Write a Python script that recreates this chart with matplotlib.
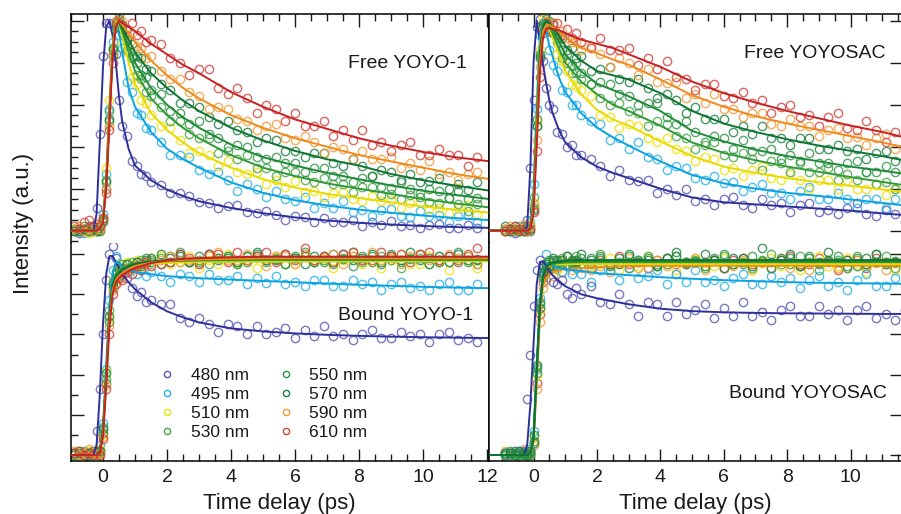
import matplotlib
matplotlib.use('Agg')
import matplotlib.pyplot as plt
from matplotlib.ticker import MultipleLocator
from matplotlib.lines import Line2D

plt.rcParams['font.family'] = ['Liberation Sans', 'DejaVu Sans']

# ----- data ----- #

wavelengths = ['480 nm', '495 nm', '510 nm', '530 nm', '550 nm', '570 nm', '590 nm', '610 nm']
marker_colours = ['#5656b4', '#25b0ea', '#f0e000', '#45a445', '#2e9444', '#1d803e', '#f39a36', '#d4403a']
line_colours = ['#30309a', '#0aa2e0', '#e6da00', '#2f9a36', '#1f8a38', '#0e7431', '#ef8a1c', '#c62222']

# measured time points (ps)
t_pts = [-0.9, -0.75, -0.6, -0.45, -0.3, -0.2, -0.1, 0.0, 0.1, 0.2, 0.3, 0.4, 0.5, 0.6, 0.75, 0.9,
         1.05, 1.2, 1.35, 1.5, 1.8, 2.1, 2.4, 2.7, 3.0, 3.3, 3.6, 3.9, 4.2, 4.5, 4.8, 5.1, 5.4, 5.7,
         6.0, 6.3, 6.6, 6.9, 7.2, 7.5, 7.8, 8.1, 8.4, 8.7, 9.0, 9.3, 9.6, 9.9, 10.2, 10.5, 10.8,
         11.1, 11.4, 11.7]

# time points of the fitted curves
t_fit_l = [-1.0, -0.3, -0.2, -0.1, 0.0, 0.1, 0.2, 0.3, 0.4, 0.5, 0.6, 0.8, 1.0, 1.5, 2, 2.5, 3,
           4, 5, 6, 7, 8, 9, 10, 11, 12.1]
t_fit_r = [-1.5, -0.3, -0.2, -0.1, 0.0, 0.1, 0.2, 0.3, 0.4, 0.5, 0.6, 0.8, 1.0, 1.5, 2, 2.5, 3,
           4, 5, 6, 7, 8, 9, 10, 11, 11.7]

# Free YOYO-1
fy_480 = [0.01, -0.01, 0.0, 0.01, 0.02, 0.11, 0.46, 0.83, 0.99, 0.99, 0.84, 0.84, 0.62, 0.5, 0.45, 0.33, 0.31, 0.27, 0.26, 0.23,
          0.219, 0.177, 0.177, 0.167, 0.134, 0.13, 0.109, 0.117, 0.121, 0.09, 0.082, 0.093, 0.075, 0.051, 0.069, 0.065, 0.042,
          0.062, 0.04, 0.043, 0.051, 0.024, 0.04, 0.025, 0.047, 0.021, 0.025, 0.011, 0.027, 0.032, 0.012, 0.011, 0.027, 0.014]
fy_495 = [0.0, 0.01, -0.01, 0.0, 0.01, 0.0, 0.02, 0.08, 0.27, 0.58, 0.9, 0.98, 0.93, 0.87, 0.71, 0.66, 0.56, 0.55, 0.49, 0.48,
          0.42, 0.36, 0.36, 0.35, 0.29, 0.27, 0.28, 0.24, 0.19, 0.22, 0.2, 0.16, 0.19, 0.15, 0.14, 0.16, 0.11, 0.13, 0.11, 0.14,
          0.09, 0.1, 0.07, 0.1, 0.105, 0.071, 0.067, 0.093, 0.07, 0.076, 0.042, 0.069, 0.076, 0.043]
fy_510 = [0.01, 0.0, 0.0, -0.01, 0.0, 0.01, 0.0, 0.05, 0.3, 0.62, 0.86, 0.97, 1.0, 0.9, 0.85, 0.73, 0.7, 0.62, 0.61, 0.55,
          0.5, 0.49, 0.43, 0.37, 0.38, 0.36, 0.31, 0.33, 0.28, 0.27, 0.28, 0.22, 0.24, 0.21, 0.235, 0.186, 0.187, 0.158, 0.181,
          0.185, 0.149, 0.143, 0.167, 0.141, 0.145, 0.109, 0.133, 0.137, 0.102, 0.108, 0.083, 0.108, 0.124, 0.08]
fy_530 = [0.0, 0.01, 0.02, 0.0, 0.01, 0.0, 0.02, 0.04, 0.24, 0.57, 0.83, 1.0, 0.97, 0.96, 0.86, 0.82, 0.74, 0.72, 0.66, 0.64,
          0.59, 0.52, 0.52, 0.46, 0.44, 0.44, 0.37, 0.38, 0.34, 0.36, 0.3, 0.3, 0.26, 0.28, 0.28, 0.24, 0.23, 0.25, 0.22, 0.22,
          0.185, 0.21, 0.21, 0.17, 0.175, 0.15, 0.17, 0.18, 0.136, 0.13, 0.154, 0.128, 0.092, 0.126]
fy_550 = [0.01, 0.0, 0.01, 0.02, 0.0, 0.01, 0.0, 0.06, 0.2, 0.52, 0.87, 0.98, 1.01, 0.94, 0.91, 0.83, 0.8, 0.74, 0.73, 0.67,
          0.65, 0.57, 0.56, 0.51, 0.52, 0.46, 0.44, 0.4, 0.41, 0.4, 0.35, 0.34, 0.35, 0.32, 0.32, 0.28, 0.3, 0.3, 0.26, 0.26,
          0.23, 0.25, 0.26, 0.21, 0.205, 0.23, 0.2, 0.16, 0.2, 0.19, 0.154, 0.188, 0.152, 0.156]
fy_570 = [0.0, 0.0, 0.01, 0.0, 0.02, 0.0, 0.01, 0.05, 0.23, 0.53, 0.86, 0.97, 0.99, 0.98, 0.91, 0.89, 0.83, 0.82, 0.77, 0.76,
          0.7, 0.67, 0.61, 0.61, 0.59, 0.54, 0.51, 0.52, 0.48, 0.47, 0.42, 0.44, 0.43, 0.38, 0.38, 0.35, 0.37, 0.37, 0.32, 0.31,
          0.34, 0.31, 0.26, 0.29, 0.28, 0.24, 0.27, 0.23, 0.235, 0.25, 0.2, 0.22, 0.195, 0.23]
fy_590 = [0.01, 0.02, 0.0, 0.01, 0.0, 0.02, 0.01, 0.06, 0.2, 0.5, 0.84, 1.0, 0.98, 1.0, 0.93, 0.94, 0.88, 0.87, 0.82, 0.83,
          0.76, 0.72, 0.72, 0.66, 0.64, 0.58, 0.59, 0.58, 0.53, 0.52, 0.48, 0.5, 0.51, 0.44, 0.43, 0.45, 0.42, 0.37, 0.4, 0.39,
          0.34, 0.38, 0.34, 0.34, 0.35, 0.3, 0.32, 0.29, 0.33, 0.27, 0.28, 0.24, 0.27, 0.28]
fy_610 = [0.02, 0.01, 0.04, 0.05, 0.02, 0.03, 0.02, 0.06, 0.18, 0.48, 0.8, 0.99, 1.03, 0.98, 0.96, 0.99, 0.93, 0.95, 0.9, 0.91,
          0.89, 0.82, 0.8, 0.74, 0.77, 0.77, 0.68, 0.65, 0.68, 0.63, 0.56, 0.6, 0.58, 0.52, 0.56, 0.5, 0.5, 0.52, 0.45, 0.48,
          0.43, 0.48, 0.41, 0.42, 0.38, 0.41, 0.42, 0.36, 0.36, 0.39, 0.36, 0.36, 0.31, 0.35]

fy_480_fit = [0, 0, 0.08, 0.42, 0.78, 0.97, 1.0, 0.93, 0.8, 0.64, 0.52, 0.39, 0.31, 0.24, 0.195, 0.165, 0.14, 0.108, 0.083, 0.063, 0.048, 0.037, 0.029, 0.022, 0.017, 0.013]
fy_495_fit = [0, 0, 0, 0.01, 0.06, 0.25, 0.6, 0.88, 1.0, 0.95, 0.85, 0.68, 0.59, 0.47, 0.39, 0.34, 0.3, 0.23, 0.18, 0.145, 0.12, 0.1, 0.085, 0.072, 0.06, 0.05]
fy_510_fit = [0, 0, 0, 0.01, 0.06, 0.25, 0.6, 0.88, 1.0, 0.98, 0.93, 0.8, 0.7, 0.56, 0.48, 0.42, 0.37, 0.3, 0.245, 0.205, 0.175, 0.155, 0.135, 0.115, 0.1, 0.085]
fy_530_fit = [0, 0, 0, 0.01, 0.05, 0.22, 0.55, 0.85, 0.99, 0.99, 0.95, 0.85, 0.76, 0.63, 0.55, 0.49, 0.44, 0.36, 0.3, 0.26, 0.225, 0.2, 0.175, 0.15, 0.13, 0.11]
fy_550_fit = [0, 0, 0, 0.01, 0.05, 0.22, 0.55, 0.85, 0.99, 0.99, 0.96, 0.88, 0.8, 0.68, 0.6, 0.54, 0.49, 0.41, 0.35, 0.31, 0.275, 0.245, 0.215, 0.19, 0.17, 0.15]
fy_570_fit = [0, 0, 0, 0.01, 0.05, 0.22, 0.55, 0.85, 0.99, 1.0, 0.97, 0.91, 0.85, 0.75, 0.68, 0.62, 0.57, 0.49, 0.43, 0.38, 0.34, 0.31, 0.27, 0.24, 0.215, 0.19]
fy_590_fit = [0, 0, 0, 0.01, 0.05, 0.22, 0.55, 0.85, 0.99, 1.0, 0.98, 0.94, 0.9, 0.81, 0.74, 0.68, 0.63, 0.55, 0.49, 0.44, 0.4, 0.36, 0.33, 0.3, 0.27, 0.245]
fy_610_fit = [0, 0, 0, 0.01, 0.04, 0.2, 0.5, 0.82, 0.97, 1.0, 0.99, 0.97, 0.95, 0.89, 0.84, 0.79, 0.75, 0.66, 0.59, 0.53, 0.485, 0.44, 0.405, 0.375, 0.35, 0.33]

# Bound YOYO-1
by_480 = [0.01, 0.0, 0.01, 0.0, 0.01, 0.12, 0.33, 0.6, 0.87, 1.0, 1.04, 0.98, 0.92, 0.9, 0.88, 0.83, 0.79, 0.81, 0.76, 0.77,
          0.75, 0.75, 0.68, 0.66, 0.68, 0.65, 0.61, 0.65, 0.64, 0.6, 0.64, 0.6, 0.61, 0.63, 0.58, 0.62, 0.59, 0.64, 0.59, 0.6,
          0.57, 0.6, 0.62, 0.58, 0.58, 0.61, 0.59, 0.6, 0.56, 0.6, 0.61, 0.57, 0.58, 0.56]
by_495 = [0.01, 0.0, 0.01, 0.0, 0.02, 0.01, 0.05, 0.16, 0.43, 0.77, 0.92, 0.99, 0.95, 0.93, 0.91, 0.93, 0.9, 0.92, 0.89, 0.91,
          0.89, 0.86, 0.9, 0.89, 0.86, 0.9, 0.87, 0.87, 0.89, 0.85, 0.88, 0.855, 0.89, 0.85, 0.86, 0.84, 0.87, 0.87, 0.84, 0.84,
          0.87, 0.85, 0.86, 0.82, 0.85, 0.86, 0.83, 0.84, 0.82, 0.85, 0.86, 0.82, 0.82, 0.85]
by_510 = [0.0, 0.01, 0.0, 0.02, 0.0, 0.01, 0.03, 0.1, 0.42, 0.68, 0.87, 0.92, 0.95, 0.91, 0.96, 0.93, 0.97, 0.94, 0.96, 0.98,
          0.99, 0.95, 0.96, 0.99, 0.93, 0.97, 0.95, 1.0, 0.95, 0.96, 0.93, 0.97, 0.99, 0.95, 0.95, 0.99, 0.96, 0.97, 0.93, 0.97,
          0.99, 0.95, 0.96, 0.93, 0.97, 1.0, 0.95, 0.95, 0.99, 0.96, 0.92, 0.97, 0.97, 0.93]
by_530 = [0.01, 0.0, 0.02, 0.01, 0.0, 0.02, 0.01, 0.14, 0.38, 0.72, 0.83, 0.91, 0.9, 0.95, 0.93, 0.96, 0.94, 0.97, 0.95, 0.97,
          0.98, 0.96, 1.01, 0.96, 0.97, 0.95, 0.98, 0.99, 0.96, 0.96, 0.99, 0.97, 0.98, 0.95, 0.98, 0.99, 0.96, 0.97, 0.95, 0.98,
          1.01, 0.96, 0.96, 0.99, 0.97, 0.93, 0.98, 0.98, 0.95, 0.99, 0.96, 0.97, 0.99, 0.95]
by_550 = [0.0, 0.02, 0.01, 0.0, 0.01, 0.0, 0.02, 0.11, 0.36, 0.66, 0.86, 0.88, 0.93, 0.91, 0.95, 0.94, 0.96, 0.94, 0.98, 0.96,
          0.95, 0.99, 1.0, 0.96, 0.96, 1.0, 0.98, 0.99, 0.95, 0.99, 1.0, 0.96, 0.975, 0.95, 0.99, 1.01, 0.96, 0.96, 1.0, 0.975,
          0.94, 0.99, 0.99, 0.95, 1.0, 0.96, 0.975, 1.0, 0.95, 0.99, 0.96, 1.01, 0.96, 0.975]
by_570 = [0.01, 0.01, 0.0, 0.01, 0.02, 0.0, 0.02, 0.13, 0.41, 0.69, 0.84, 0.9, 0.89, 0.93, 0.95, 0.93, 0.96, 0.95, 0.97, 0.98,
          1.0, 0.98, 0.99, 0.96, 0.99, 1.0, 0.97, 0.98, 0.96, 0.99, 1.01, 0.97, 0.97, 1.0, 0.98, 0.95, 0.99, 0.99, 0.96, 1.0,
          0.97, 0.98, 1.0, 0.96, 0.99, 0.97, 1.01, 0.97, 0.98, 0.96, 0.99, 1.0, 0.97, 0.97]
by_590 = [0.02, 0.0, 0.01, 0.03, 0.01, 0.0, 0.01, 0.09, 0.35, 0.64, 0.82, 0.86, 0.9, 0.88, 0.93, 0.92, 0.95, 0.93, 0.96, 0.95,
          0.97, 0.99, 0.96, 0.97, 0.95, 0.99, 1.01, 0.97, 0.97, 1.0, 0.98, 0.94, 0.99, 0.99, 0.95, 1.0, 0.97, 0.98, 1.0, 0.95,
          0.99, 0.97, 1.01, 0.97, 0.98, 0.95, 0.99, 1.0, 0.97, 0.97, 1.0, 0.98, 0.99, 0.95]
by_610 = [0.01, 0.02, 0.0, 0.01, 0.0, 0.02, 0.0, 0.08, 0.33, 0.6, 0.8, 0.85, 0.88, 0.87, 0.91, 0.9, 0.94, 0.92, 0.96, 0.94,
          0.95, 0.96, 1.0, 0.98, 0.95, 1.0, 1.0, 0.96, 1.01, 0.97, 0.99, 1.01, 0.96, 1.0, 0.97, 1.03, 0.97, 0.99, 0.96, 1.0,
          1.01, 0.97, 0.97, 1.01, 0.99, 1.0, 0.96, 1.0, 1.01, 0.97, 0.99, 0.96, 1.0, 1.03]

by_480_fit = [0, 0, 0.05, 0.3, 0.65, 0.9, 0.99, 0.99, 0.96, 0.93, 0.9, 0.86, 0.825, 0.76, 0.715, 0.685, 0.66, 0.63, 0.615, 0.605, 0.598, 0.593, 0.589, 0.586, 0.584, 0.582]
by_495_fit = [0, 0, 0, 0.02, 0.14, 0.45, 0.75, 0.9, 0.96, 0.96, 0.94, 0.92, 0.91, 0.9, 0.89, 0.885, 0.88, 0.873, 0.866, 0.86, 0.853, 0.847, 0.842, 0.837, 0.833, 0.83]
by_510_fit = [0, 0, 0, 0.02, 0.12, 0.4, 0.7, 0.85, 0.9, 0.92, 0.93, 0.94, 0.945, 0.952, 0.956, 0.958, 0.96, 0.961, 0.962, 0.962, 0.963, 0.963, 0.963, 0.964, 0.964, 0.964]
by_530_fit = [0, 0, 0, 0.02, 0.12, 0.4, 0.7, 0.85, 0.9, 0.92, 0.93, 0.945, 0.952, 0.96, 0.964, 0.966, 0.968, 0.969, 0.97, 0.97, 0.97, 0.97, 0.97, 0.97, 0.97, 0.97]
by_550_fit = [0, 0, 0, 0.02, 0.12, 0.4, 0.7, 0.85, 0.89, 0.91, 0.925, 0.94, 0.95, 0.962, 0.967, 0.97, 0.972, 0.974, 0.975, 0.975, 0.975, 0.975, 0.975, 0.975, 0.975, 0.975]
by_570_fit = [0, 0, 0, 0.02, 0.12, 0.4, 0.7, 0.85, 0.89, 0.905, 0.92, 0.938, 0.95, 0.964, 0.97, 0.973, 0.975, 0.977, 0.978, 0.978, 0.978, 0.978, 0.978, 0.978, 0.978, 0.978]
by_590_fit = [0, 0, 0, 0.01, 0.1, 0.36, 0.66, 0.82, 0.87, 0.89, 0.905, 0.925, 0.94, 0.958, 0.966, 0.97, 0.973, 0.976, 0.978, 0.978, 0.978, 0.978, 0.978, 0.978, 0.978, 0.978]
by_610_fit = [0, 0, 0, 0.01, 0.09, 0.34, 0.63, 0.8, 0.86, 0.88, 0.895, 0.915, 0.93, 0.955, 0.968, 0.976, 0.98, 0.984, 0.987, 0.987, 0.987, 0.987, 0.987, 0.987, 0.987, 0.987]

# Free YOYOSAC
fs_480 = [0.0, 0.01, -0.01, 0.0, 0.01, 0.05, 0.3, 0.62, 0.97, 1.01, 0.81, 0.68, 0.6, 0.58, 0.47, 0.46, 0.4, 0.41, 0.36, 0.36,
          0.34, 0.31, 0.26, 0.29, 0.24, 0.235, 0.24, 0.18, 0.2, 0.17, 0.2, 0.14, 0.15, 0.12, 0.15, 0.16, 0.12, 0.11, 0.15, 0.12,
          0.13, 0.09, 0.12, 0.13, 0.09, 0.1, 0.08, 0.11, 0.13, 0.08, 0.07, 0.1, 0.08, 0.04]
fs_495 = [0.01, 0.0, 0.0, 0.02, 0.0, 0.01, 0.04, 0.22, 0.58, 0.93, 0.98, 0.96, 0.86, 0.79, 0.76, 0.67, 0.66, 0.6, 0.6, 0.55,
          0.52, 0.51, 0.43, 0.44, 0.39, 0.42, 0.35, 0.34, 0.29, 0.31, 0.3, 0.25, 0.24, 0.26, 0.225, 0.23, 0.19, 0.21, 0.22, 0.18,
          0.18, 0.15, 0.19, 0.21, 0.15, 0.15, 0.18, 0.15, 0.11, 0.15, 0.15, 0.11, 0.15, 0.11]
fs_510 = [0.0, 0.01, 0.01, 0.0, 0.0, 0.02, 0.03, 0.13, 0.52, 0.86, 1.01, 0.97, 0.95, 0.94, 0.84, 0.81, 0.76, 0.7, 0.69, 0.67,
          0.64, 0.55, 0.54, 0.49, 0.51, 0.5, 0.44, 0.42, 0.44, 0.39, 0.38, 0.33, 0.35, 0.34, 0.29, 0.3, 0.26, 0.29, 0.31, 0.25,
          0.24, 0.27, 0.24, 0.2, 0.24, 0.24, 0.2, 0.24, 0.2, 0.2, 0.22, 0.17, 0.2, 0.17]
fs_530 = [0.01, 0.0, 0.02, 0.0, 0.01, 0.0, 0.02, 0.16, 0.5, 0.84, 0.97, 1.01, 0.95, 0.95, 0.9, 0.82, 0.8, 0.75, 0.75, 0.72,
          0.7, 0.63, 0.6, 0.61, 0.57, 0.56, 0.5, 0.52, 0.51, 0.45, 0.44, 0.39, 0.41, 0.42, 0.36, 0.35, 0.37, 0.34, 0.29, 0.33,
          0.32, 0.28, 0.32, 0.28, 0.28, 0.3, 0.24, 0.27, 0.24, 0.28, 0.22, 0.23, 0.2, 0.23]
fs_550 = [0.0, 0.01, 0.0, 0.01, 0.02, 0.0, 0.01, 0.11, 0.53, 0.83, 0.99, 0.98, 1.0, 0.94, 0.93, 0.86, 0.84, 0.79, 0.8, 0.75,
          0.7, 0.71, 0.7, 0.65, 0.64, 0.6, 0.61, 0.61, 0.54, 0.51, 0.52, 0.47, 0.42, 0.45, 0.44, 0.39, 0.43, 0.38, 0.38, 0.39,
          0.34, 0.36, 0.33, 0.37, 0.32, 0.32, 0.29, 0.32, 0.33, 0.28, 0.28, 0.31, 0.28, 0.28]
fs_570 = [0.02, 0.0, 0.01, 0.0, 0.0, 0.01, 0.0, 0.1, 0.5, 0.82, 0.98, 0.99, 0.97, 0.99, 0.92, 0.92, 0.86, 0.87, 0.82, 0.83,
          0.76, 0.77, 0.78, 0.72, 0.71, 0.72, 0.68, 0.63, 0.65, 0.62, 0.56, 0.59, 0.53, 0.53, 0.53, 0.47, 0.5, 0.46, 0.5, 0.44,
          0.44, 0.41, 0.44, 0.44, 0.39, 0.39, 0.41, 0.38, 0.39, 0.34, 0.37, 0.38, 0.33, 0.33]
fs_590 = [0.01, 0.02, 0.0, 0.01, 0.03, 0.0, 0.02, 0.12, 0.43, 0.78, 0.96, 1.0, 0.97, 0.99, 0.94, 0.95, 0.92, 0.9, 0.9, 0.86,
          0.88, 0.84, 0.78, 0.82, 0.8, 0.74, 0.77, 0.71, 0.705, 0.71, 0.63, 0.65, 0.61, 0.65, 0.58, 0.58, 0.54, 0.56, 0.56, 0.51,
          0.5, 0.53, 0.5, 0.5, 0.45, 0.48, 0.49, 0.44, 0.444, 0.41, 0.44, 0.46, 0.39, 0.38]
fs_610 = [0.0, 0.01, 0.02, 0.01, 0.0, 0.02, 0.01, 0.09, 0.38, 0.73, 0.94, 0.99, 0.95, 0.98, 0.99, 0.93, 0.96, 0.92, 0.94, 0.9,
          0.87, 0.92, 0.86, 0.86, 0.87, 0.79, 0.82, 0.77, 0.81, 0.73, 0.72, 0.67, 0.7, 0.7, 0.64, 0.63, 0.66, 0.61, 0.62, 0.56,
          0.59, 0.6, 0.54, 0.55, 0.5, 0.54, 0.56, 0.49, 0.48, 0.52, 0.48, 0.42, 0.47, 0.46]

fs_480_fit = [0, 0, 0.02, 0.3, 0.8, 1.0, 0.9, 0.79, 0.7, 0.62, 0.56, 0.48, 0.42, 0.35, 0.305, 0.275, 0.25, 0.2, 0.158, 0.135, 0.125, 0.115, 0.105, 0.095, 0.082, 0.074]
fs_495_fit = [0, 0, 0, 0.02, 0.2, 0.6, 0.92, 1.0, 0.95, 0.88, 0.83, 0.73, 0.66, 0.56, 0.49, 0.445, 0.405, 0.33, 0.265, 0.225, 0.2, 0.18, 0.165, 0.148, 0.132, 0.12]
fs_510_fit = [0, 0, 0, 0.01, 0.15, 0.55, 0.88, 0.99, 1.0, 0.96, 0.92, 0.84, 0.76, 0.65, 0.575, 0.53, 0.5, 0.425, 0.355, 0.305, 0.275, 0.25, 0.23, 0.213, 0.196, 0.184]
fs_530_fit = [0, 0, 0, 0.01, 0.14, 0.52, 0.86, 0.99, 1.0, 0.97, 0.94, 0.87, 0.8, 0.71, 0.65, 0.6, 0.57, 0.5, 0.42, 0.37, 0.335, 0.305, 0.28, 0.255, 0.232, 0.216]
fs_550_fit = [0, 0, 0, 0.01, 0.13, 0.5, 0.85, 0.98, 1.0, 0.98, 0.96, 0.9, 0.84, 0.76, 0.7, 0.67, 0.64, 0.57, 0.475, 0.425, 0.385, 0.355, 0.33, 0.305, 0.285, 0.271]
fs_570_fit = [0, 0, 0, 0.01, 0.12, 0.48, 0.84, 0.97, 1.0, 0.99, 0.97, 0.93, 0.88, 0.81, 0.76, 0.74, 0.72, 0.655, 0.57, 0.51, 0.47, 0.435, 0.405, 0.38, 0.355, 0.334]
fs_590_fit = [0, 0, 0, 0.01, 0.1, 0.45, 0.8, 0.95, 0.98, 0.98, 0.97, 0.95, 0.92, 0.87, 0.845, 0.815, 0.79, 0.72, 0.645, 0.59, 0.545, 0.51, 0.48, 0.45, 0.42, 0.397]
fs_610_fit = [0, 0, 0, 0.01, 0.08, 0.4, 0.75, 0.92, 0.96, 0.965, 0.96, 0.955, 0.94, 0.91, 0.89, 0.87, 0.84, 0.78, 0.71, 0.655, 0.61, 0.57, 0.535, 0.5, 0.47, 0.444]

# Bound YOYOSAC
bs_480 = [0.01, 0.0, 0.02, 0.01, 0.02, 0.28, 0.5, 0.74, 0.92, 0.97, 0.94, 0.91, 0.93, 0.86, 0.85, 0.87, 0.8, 0.78, 0.83, 0.8,
          0.84, 0.76, 0.75, 0.8, 0.75, 0.69, 0.76, 0.75, 0.69, 0.76, 0.7, 0.72, 0.75, 0.68, 0.73, 0.69, 0.76, 0.69, 0.71, 0.67,
          0.72, 0.74, 0.69, 0.69, 0.74, 0.7, 0.72, 0.67, 0.72, 0.74, 0.68, 0.7, 0.67, 0.72]
bs_495 = [0.0, 0.01, 0.0, 0.02, 0.01, 0.0, 0.03, 0.12, 0.43, 0.78, 0.93, 1.0, 0.97, 0.93, 0.95, 0.91, 0.94, 0.9, 0.93, 0.9,
          0.86, 0.92, 0.92, 0.87, 0.93, 0.88, 0.89, 0.92, 0.85, 0.9, 0.86, 0.92, 0.86, 0.87, 0.84, 0.88, 0.9, 0.85, 0.85, 0.89,
          0.86, 0.88, 0.83, 0.87, 0.89, 0.84, 0.86, 0.82, 0.87, 0.9, 0.84, 0.84, 0.88, 0.85]
bs_510 = [0.0, 0.01, 0.02, 0.0, 0.01, 0.0, 0.02, 0.09, 0.4, 0.72, 0.9, 0.96, 0.93, 0.95, 0.92, 0.96, 0.94, 0.97, 0.93, 0.95,
          0.94, 0.95, 0.98, 0.92, 0.96, 0.94, 0.99, 0.94, 0.95, 0.92, 0.96, 0.98, 0.94, 0.94, 0.98, 0.95, 0.96, 0.92, 0.96, 0.98,
          0.94, 0.95, 0.92, 0.96, 0.99, 0.94, 0.94, 0.98, 0.95, 0.91, 0.96, 0.96, 0.92, 0.98]
bs_530 = [0.01, 0.0, 0.0, 0.01, 0.0, 0.02, 0.01, 0.06, 0.44, 0.75, 0.88, 0.93, 0.97, 0.94, 0.96, 0.98, 0.95, 0.96, 0.99, 0.95,
          0.95, 1.0, 0.95, 0.96, 0.93, 0.97, 0.99, 0.95, 0.95, 0.99, 0.96, 0.97, 0.93, 0.97, 0.99, 0.95, 0.96, 0.93, 0.97, 1.0,
          0.95, 0.95, 0.99, 0.96, 0.92, 0.97, 0.97, 0.93, 0.99, 0.95, 0.96, 0.99, 0.93, 0.97]
bs_550 = [0.0, 0.02, 0.01, 0.0, 0.0, 0.01, 0.0, 0.07, 0.41, 0.76, 0.9, 0.92, 0.96, 0.97, 0.94, 0.97, 0.99, 0.95, 0.97, 0.98,
          0.98, 0.99, 0.95, 0.95, 0.99, 0.97, 0.98, 0.94, 0.98, 0.99, 0.95, 0.965, 0.94, 0.98, 1.0, 0.95, 0.95, 0.99, 0.965, 0.93,
          0.98, 0.98, 0.94, 0.99, 0.95, 0.965, 0.99, 0.94, 0.98, 0.95, 1.0, 0.95, 0.965, 0.94]
bs_570 = [0.01, 0.01, 0.0, 0.02, 0.01, 0.0, 0.02, 0.1, 0.45, 0.73, 0.91, 0.95, 0.94, 0.98, 0.97, 0.95, 0.99, 0.97, 0.96, 1.0,
          0.97, 0.98, 0.94, 0.98, 1.0, 0.96, 0.97, 0.94, 0.98, 1.01, 0.96, 0.96, 1.0, 0.97, 0.93, 0.98, 0.98, 0.94, 1.03, 0.96,
          0.97, 1.0, 0.94, 0.98, 0.96, 1.01, 0.96, 0.97, 0.94, 0.98, 1.0, 0.96, 0.96, 1.0]
bs_590 = [0.02, 0.01, 0.0, 0.01, 0.03, 0.01, 0.0, 0.05, 0.33, 0.66, 0.83, 0.87, 0.92, 0.89, 0.93, 0.91, 0.94, 0.92, 0.95, 0.93,
          0.92, 0.94, 0.91, 0.95, 0.98, 0.93, 0.93, 0.97, 0.94, 0.9, 0.955, 0.955, 0.92, 0.97, 0.93, 0.94, 0.97, 0.92, 0.955, 0.93,
          0.98, 0.93, 0.94, 0.92, 0.955, 0.97, 0.93, 0.93, 0.97, 0.94, 0.955, 0.92, 0.955, 0.97]
bs_610 = [0.0, 0.01, 0.0, 0.0, 0.01, 0.0, 0.01, 0.06, 0.36, 0.7, 0.86, 0.93, 0.94, 0.96, 0.95, 0.97, 0.95, 0.96, 0.97, 0.95,
          0.93, 0.97, 0.95, 0.99, 0.95, 0.96, 0.93, 0.97, 0.98, 0.95, 0.95, 0.98, 0.96, 0.97, 0.93, 0.97, 0.98, 0.95, 0.96, 0.93,
          0.97, 0.99, 0.95, 0.95, 0.98, 0.96, 0.92, 0.97, 0.97, 0.93, 0.98, 0.95, 0.96, 0.98]

bs_480_fit = [0, 0, 0.05, 0.25, 0.55, 0.85, 0.96, 0.965, 0.94, 0.915, 0.895, 0.865, 0.84, 0.8, 0.78, 0.765, 0.75, 0.728, 0.716, 0.71, 0.707, 0.705, 0.704, 0.703, 0.702, 0.702]
bs_495_fit = [0, 0, 0, 0.01, 0.1, 0.45, 0.76, 0.9, 0.95, 0.95, 0.945, 0.93, 0.925, 0.915, 0.905, 0.9, 0.895, 0.885, 0.877, 0.87, 0.865, 0.86, 0.857, 0.855, 0.853, 0.852]
bs_510_fit = [0, 0, 0, 0.01, 0.08, 0.42, 0.74, 0.89, 0.93, 0.94, 0.945, 0.948, 0.95, 0.95, 0.95, 0.95, 0.95, 0.95, 0.95, 0.95, 0.95, 0.95, 0.95, 0.95, 0.95, 0.95]
bs_530_fit = [0, 0, 0, 0.01, 0.08, 0.42, 0.74, 0.89, 0.935, 0.945, 0.95, 0.955, 0.958, 0.96, 0.96, 0.96, 0.96, 0.96, 0.96, 0.96, 0.96, 0.96, 0.96, 0.96, 0.96, 0.96]
bs_550_fit = [0, 0, 0, 0.01, 0.08, 0.42, 0.74, 0.89, 0.935, 0.948, 0.955, 0.96, 0.963, 0.965, 0.965, 0.965, 0.965, 0.965, 0.965, 0.965, 0.965, 0.965, 0.965, 0.965, 0.965, 0.965]
bs_570_fit = [0, 0, 0, 0.01, 0.08, 0.42, 0.74, 0.89, 0.935, 0.95, 0.958, 0.964, 0.967, 0.97, 0.97, 0.97, 0.97, 0.97, 0.97, 0.97, 0.97, 0.97, 0.97, 0.97, 0.97, 0.97]
bs_590_fit = [0, 0, 0, 0.01, 0.06, 0.35, 0.68, 0.85, 0.88, 0.9, 0.91, 0.92, 0.925, 0.93, 0.935, 0.938, 0.94, 0.942, 0.942, 0.942, 0.942, 0.942, 0.942, 0.942, 0.942, 0.942]
bs_610_fit = [0, 0, 0, 0.01, 0.07, 0.38, 0.71, 0.87, 0.92, 0.935, 0.945, 0.95, 0.953, 0.956, 0.958, 0.958, 0.958, 0.958, 0.958, 0.958, 0.958, 0.958, 0.958, 0.958, 0.958, 0.958]

# ----- figure ----- #

W, H = 901, 514
fig = plt.figure(figsize=(W / 100, H / 100), dpi=100)


def add_panel(x0, y0, w, h):
    # pixel box (left, top, width, height) -> figure fraction
    return fig.add_axes([x0 / W, 1 - (y0 + h) / H, w / W, h / H])


ax_fy = add_panel(71, 14, 417.5, 229)
ax_fs = add_panel(488.5, 14, 413.5, 229)
ax_by = add_panel(71, 243, 417.5, 218)
ax_bs = add_panel(488.5, 243, 413.5, 218)

panels = [
    (ax_fy, t_fit_l, [fy_480, fy_495, fy_510, fy_530, fy_550, fy_570, fy_590, fy_610],
     [fy_480_fit, fy_495_fit, fy_510_fit, fy_530_fit, fy_550_fit, fy_570_fit, fy_590_fit, fy_610_fit],
     'Free YOYO-1', (0.9485, 0.764), [0, 1, 2, 3, 4, 5, 6, 7]),
    (ax_fs, t_fit_r, [fs_480, fs_495, fs_510, fs_530, fs_550, fs_570, fs_590, fs_610],
     [fs_480_fit, fs_495_fit, fs_510_fit, fs_530_fit, fs_550_fit, fs_570_fit, fs_590_fit, fs_610_fit],
     'Free YOYOSAC', (0.959, 0.807), [0, 1, 2, 3, 4, 5, 6, 7]),
    (ax_by, t_fit_l, [by_480, by_495, by_510, by_530, by_550, by_570, by_590, by_610],
     [by_480_fit, by_495_fit, by_510_fit, by_530_fit, by_550_fit, by_570_fit, by_590_fit, by_610_fit],
     'Bound YOYO-1', (0.9636, 0.647), [0, 1, 2, 3, 4, 5, 6, 7]),
    (ax_bs, t_fit_r, [bs_480, bs_495, bs_510, bs_530, bs_550, bs_570, bs_590, bs_610],
     [bs_480_fit, bs_495_fit, bs_510_fit, bs_530_fit, bs_550_fit, bs_570_fit, bs_590_fit, bs_610_fit],
     'Bound YOYOSAC', (0.963, 0.2876), [7, 6, 2, 1, 0, 3, 4, 5]),
]

for ax, t_fit, pts, fits, label, (lx, ly), order in panels:
    for i in order:
        ax.plot(t_pts, pts[i], ls='none', marker='o', ms=6, mfc='none', mew=1.0,
                mec=marker_colours[i], alpha=0.8, zorder=2)
    for i in order:
        ax.plot(t_fit, fits[i], '-', color=line_colours[i], lw=1.4, zorder=3)
    ax.text(lx, ly, label, transform=ax.transAxes, ha='right', va='baseline',
            fontsize=14, color='#1a1a1a')

# axis limits and ticks
for ax in (ax_fy, ax_by):
    ax.set_xlim(-1.0, 12.05)
for ax in (ax_fs, ax_bs):
    ax.set_xlim(-1.42, 11.62)
for ax in (ax_fy, ax_fs):
    ax.set_ylim(-0.059, 1.032)
    ax.yaxis.set_major_locator(MultipleLocator(0.2))
    ax.yaxis.set_minor_locator(MultipleLocator(0.05))
    ax.spines['bottom'].set_visible(False)
for ax in (ax_by, ax_bs):
    ax.set_ylim(-0.03, 1.055)
    ax.yaxis.set_major_locator(MultipleLocator(0.2))
    ax.yaxis.set_minor_locator(MultipleLocator(0.1))
    ax.spines['top'].set_visible(False)

for ax in (ax_fy, ax_fs, ax_by, ax_bs):
    is_top = ax in (ax_fy, ax_fs)
    is_left = ax in (ax_fy, ax_by)
    ax.xaxis.set_major_locator(MultipleLocator(2))
    ax.xaxis.set_minor_locator(MultipleLocator(0.5))
    for sp in ax.spines.values():
        sp.set_linewidth(1.1)
    ax.tick_params(which='both', direction='in', width=1.0, color='#1a1a1a',
                   top=is_top, bottom=not is_top, left=is_left, right=not is_left,
                   labelleft=False, labelright=False, labeltop=False,
                   labelbottom=not is_top, labelsize=14, labelcolor='#1a1a1a', pad=5.5)
    ax.tick_params(which='major', length=9)
    ax.tick_params(which='minor', length=5)
    if not is_left:
        ax.tick_params(which='minor', right=False)

# axis titles
fig.text(279.5 / W, 1 - 509 / H, 'Time delay (ps)', ha='center', va='baseline',
         fontsize=16, color='#1a1a1a')
fig.text(695 / W, 1 - 509 / H, 'Time delay (ps)', ha='center', va='baseline',
         fontsize=16, color='#1a1a1a')
fig.text(23 / W, 1 - 223.5 / H, 'Intensity (a.u.)', rotation=90, ha='center', va='center',
         fontsize=16, color='#1a1a1a')

# legend in the lower-left panel
handles = [Line2D([], [], ls='none', marker='o', ms=4.5, mfc='none', mew=1.0,
                  mec=marker_colours[i]) for i in range(len(wavelengths))]
ax_by.legend(handles, wavelengths, ncol=2, loc='upper left', bbox_to_anchor=(0.214, 0.427),
             frameon=False, fontsize=12.5, handlelength=0.8, handletextpad=0.94,
             columnspacing=1.74, labelspacing=0.22, borderpad=0, borderaxespad=0,
             labelcolor='#1a1a1a')

fig.savefig('out.png', dpi=100)
